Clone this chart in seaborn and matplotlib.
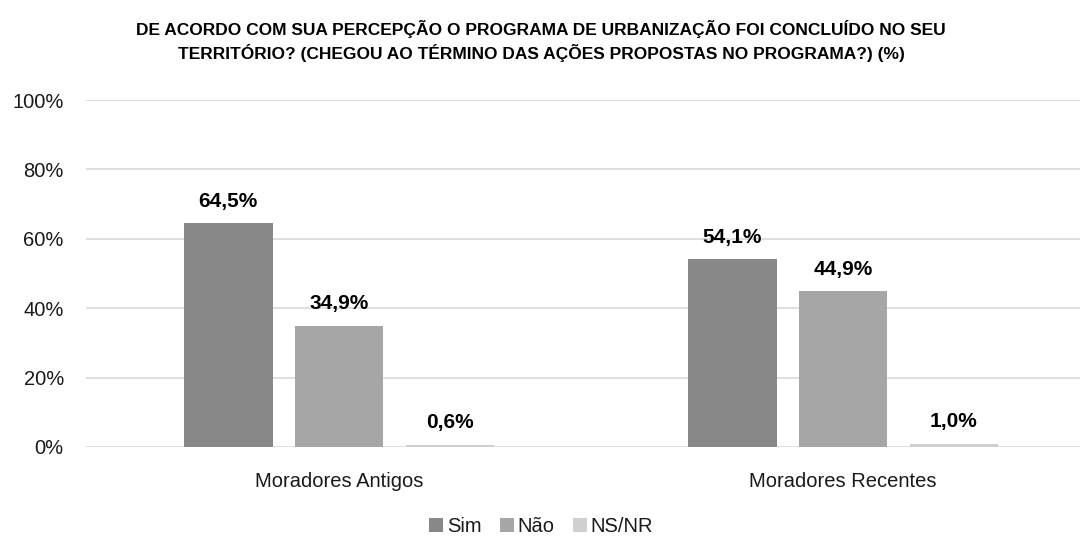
import pandas as pd
import matplotlib.pyplot as plt
import seaborn as sns

categorias = ['Moradores Antigos', 'Moradores Recentes']
respostas = ['Sim', 'Não', 'NS/NR']
sim = [64.5, 54.1]
nao = [34.9, 44.9]
nsnr = [0.6, 1.0]
cores = ['#878787', '#a6a6a6', '#d0d0d0']

titulo = ('DE ACORDO COM SUA PERCEPÇÃO O PROGRAMA DE URBANIZAÇÃO FOI CONCLUÍDO NO SEU\n'
          'TERRITÓRIO? (CHEGOU AO TÉRMINO DAS AÇÕES PROPOSTAS NO PROGRAMA?) (%)')

df = pd.DataFrame({
    'categoria': categorias * 3,
    'resposta': [r for r in respostas for _ in categorias],
    'valor': sim + nao + nsnr,
})

sns.set_theme(style='white')
plt.rcParams['font.family'] = ['Liberation Sans', 'DejaVu Sans']

fig = plt.figure(figsize=(10.82, 5.37), dpi=100)
ax = fig.add_axes([86 / 1082, 1 - 447 / 537, (1080 - 86) / 1082, 347 / 537])

sns.barplot(data=df, x='categoria', y='valor', hue='resposta', hue_order=respostas,
            palette=cores, width=0.66, gap=0.2, linewidth=0, ax=ax, legend=True)

# rótulos de valor acima das barras
for cont in ax.containers:
    labels = [f"{v:.1f}%".replace('.', ',') for v in cont.datavalues]
    ax.bar_label(cont, labels=labels, padding=9, fontsize=15, fontweight='bold', color='black')

ax.set_ylim(0, 100)
ax.set_xlim(-0.502, 1.470)
ax.set_yticks(range(0, 101, 20))
ax.set_yticklabels([f"{v}%" for v in range(0, 101, 20)], fontsize=14.5, color='#1a1a1a')
ax.tick_params(axis='x', labelsize=14.5, colors='#1a1a1a', pad=18, length=0)
ax.tick_params(axis='y', pad=16, length=0)
ax.yaxis.grid(True, color='#d9d9d9', linewidth=1.2)
ax.set_axisbelow(True)
for s in ax.spines.values():
    s.set_visible(False)
ax.set_xlabel('')
ax.set_ylabel('')

ax.legend(loc='lower center', bbox_to_anchor=((541 - 86) / 994, -0.31), ncol=3, frameon=False,
          fontsize=14.5, handlelength=0.7, handleheight=0.7, handletextpad=0.2, columnspacing=0.9,
          labelcolor='#1a1a1a')

fig.suptitle(titulo, fontsize=12.5, fontweight='bold', y=0.962, linespacing=1.35, color='black')

fig.savefig('out.png', dpi=100)
